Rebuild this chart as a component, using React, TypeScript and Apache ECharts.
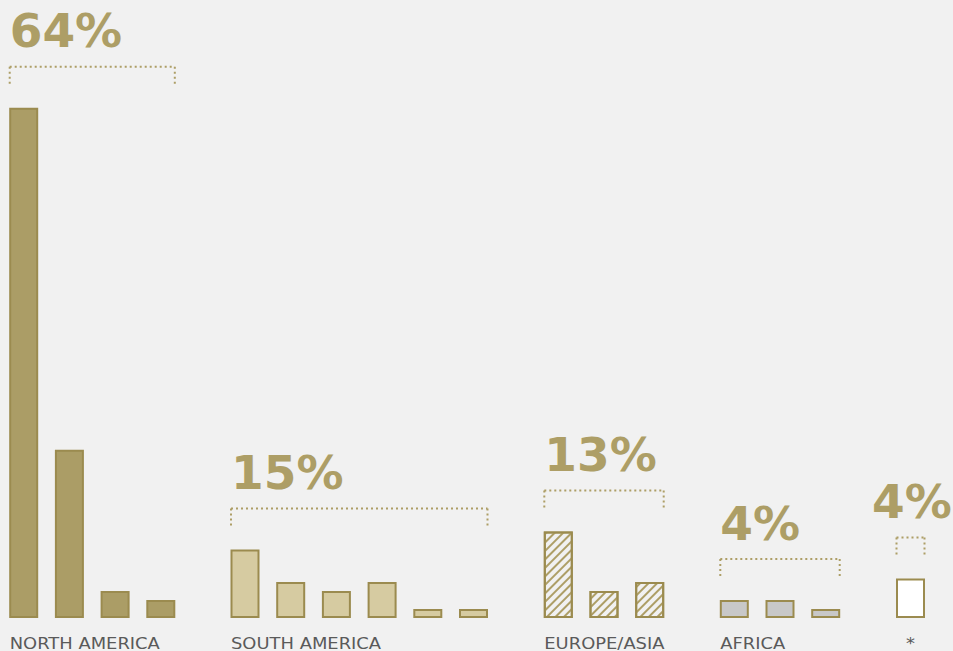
import React, { useEffect, useRef } from "react";
import * as echarts from "echarts";

// ---- data ----
const groupNames = ["NORTH AMERICA", "SOUTH AMERICA", "EUROPE/ASIA", "AFRICA", "*"];
const groupShares = ["64%", "15%", "13%", "4%", "4%"];
const northAmerica = [56.7, 18.7, 3, 2];
const southAmerica = [7.6, 4, 3, 4, 1, 1];
const europeAsia = [9.6, 3, 4];
const africa = [2, 2, 1];
const other = [4.4];
const groupValues = [northAmerica, southAmerica, europeAsia, africa, other];

// ---- layout / style ----
const BG = "#f1f1f1";
const GOLD = "#ad9e66";
const BORDER = "#9b8b4f";
const SLOT = 45.7;
const BAR_W = 29;
const gridLefts = [0.85, 222.15, 535.45, 711.45, 887.65];
const GRID_TOP = 78;
const GRID_BOTTOM_Y = 618;
const Y_MAX = 60;

const barStyles: any[] = [
  { color: "#ab9d66", borderColor: BORDER, borderWidth: 2 },
  { color: "#d6cba1", borderColor: BORDER, borderWidth: 2 },
  {
    color: BG,
    borderColor: BORDER,
    borderWidth: 2,
    decal: {
      symbol: "rect",
      symbolSize: 1,
      dashArrayX: [1, 0],
      dashArrayY: [1.6, 4],
      rotation: -Math.PI / 4,
      color: GOLD,
      backgroundColor: "rgba(0,0,0,0)",
    },
  },
  { color: "#c8c8c8", borderColor: BORDER, borderWidth: 2 },
  { color: "#ffffff", borderColor: BORDER, borderWidth: 2 },
];

export default function App() {
  const ref = useRef<HTMLDivElement>(null);
  useEffect(() => {
    const chart = echarts.init(ref.current!, null, { renderer: "svg" });
    const grids: any[] = [];
    const xAxes: any[] = [];
    const yAxes: any[] = [];
    const series: any[] = [];
    groupValues.forEach((vals, g) => {
      const n = vals.length;
      grids.push({
        left: gridLefts[g],
        width: n * SLOT,
        top: GRID_TOP,
        height: GRID_BOTTOM_Y - GRID_TOP,
      });
      xAxes.push({
        type: "category",
        gridIndex: g,
        data: vals.map((_, i) => groupNames[g] + " " + (i + 1)),
        show: false,
      });
      yAxes.push({ type: "value", gridIndex: g, min: 0, max: Y_MAX, show: false });
      series.push({
        type: "bar",
        xAxisIndex: g,
        yAxisIndex: g,
        data: vals,
        barWidth: BAR_W,
        itemStyle: barStyles[g],
        silent: true,
      });
      const maxV = Math.max(...vals);
      series.push({
        type: "custom",
        xAxisIndex: g,
        yAxisIndex: g,
        clip: false,
        z: 5,
        silent: true,
        data: [[n - 1, maxV]],
        renderItem: (_params: any, api: any) => {
          const p0 = api.coord([0, maxV]);
          const p1 = api.coord([n - 1, maxV]);
          const base = api.coord([0, 0]);
          const half = 15;
          const left = p0[0] - half;
          const right = p1[0] + half;
          const topOuter = p0[1] - 1;
          const by = topOuter - 40;
          const single = n === 1;
          const lineStyle = { stroke: GOLD, lineWidth: 2, lineDash: [2, 3], fill: null };
          return {
            type: "group",
            children: [
              { type: "line", shape: { x1: left + 1, y1: by, x2: right - 1, y2: by }, style: lineStyle },
              { type: "line", shape: { x1: left + 1, y1: by, x2: left + 1, y2: by + 17 }, style: lineStyle },
              { type: "line", shape: { x1: right - 1, y1: by, x2: right - 1, y2: by + 17 }, style: lineStyle },
              {
                type: "text",
                x: single ? (left + right) / 2 + 1.5 : left + 1,
                y: by - 36,
                style: {
                  text: groupShares[g],
                  fontFamily: "DejaVu Sans",
                  fontWeight: "bold",
                  fontSize: 47,
                  fill: GOLD,
                  align: single ? "center" : "left",
                  verticalAlign: "middle",
                },
              },
              {
                type: "text",
                x: single ? (left + right) / 2 : left + 1,
                y: base[1] + 25,
                scaleX: 1.12,
                style: {
                  text: groupNames[g],
                  fontFamily: "DejaVu Sans",
                  fontSize: 16,
                  lineHeight: 12,
                  fill: "#5a5a5a",
                  align: single ? "center" : "left",
                  verticalAlign: "middle",
                },
              },
            ],
          };
        },
      });
    });
    chart.setOption({
      animation: false,
      backgroundColor: BG,
      grid: grids,
      xAxis: xAxes,
      yAxis: yAxes,
      series,
    });
    return () => chart.dispose();
  }, []);
  return (
    <div
      ref={ref}
      style={{ position: "fixed", left: 0, top: 0, width: 953, height: 651, background: BG }}
    />
  );
}
